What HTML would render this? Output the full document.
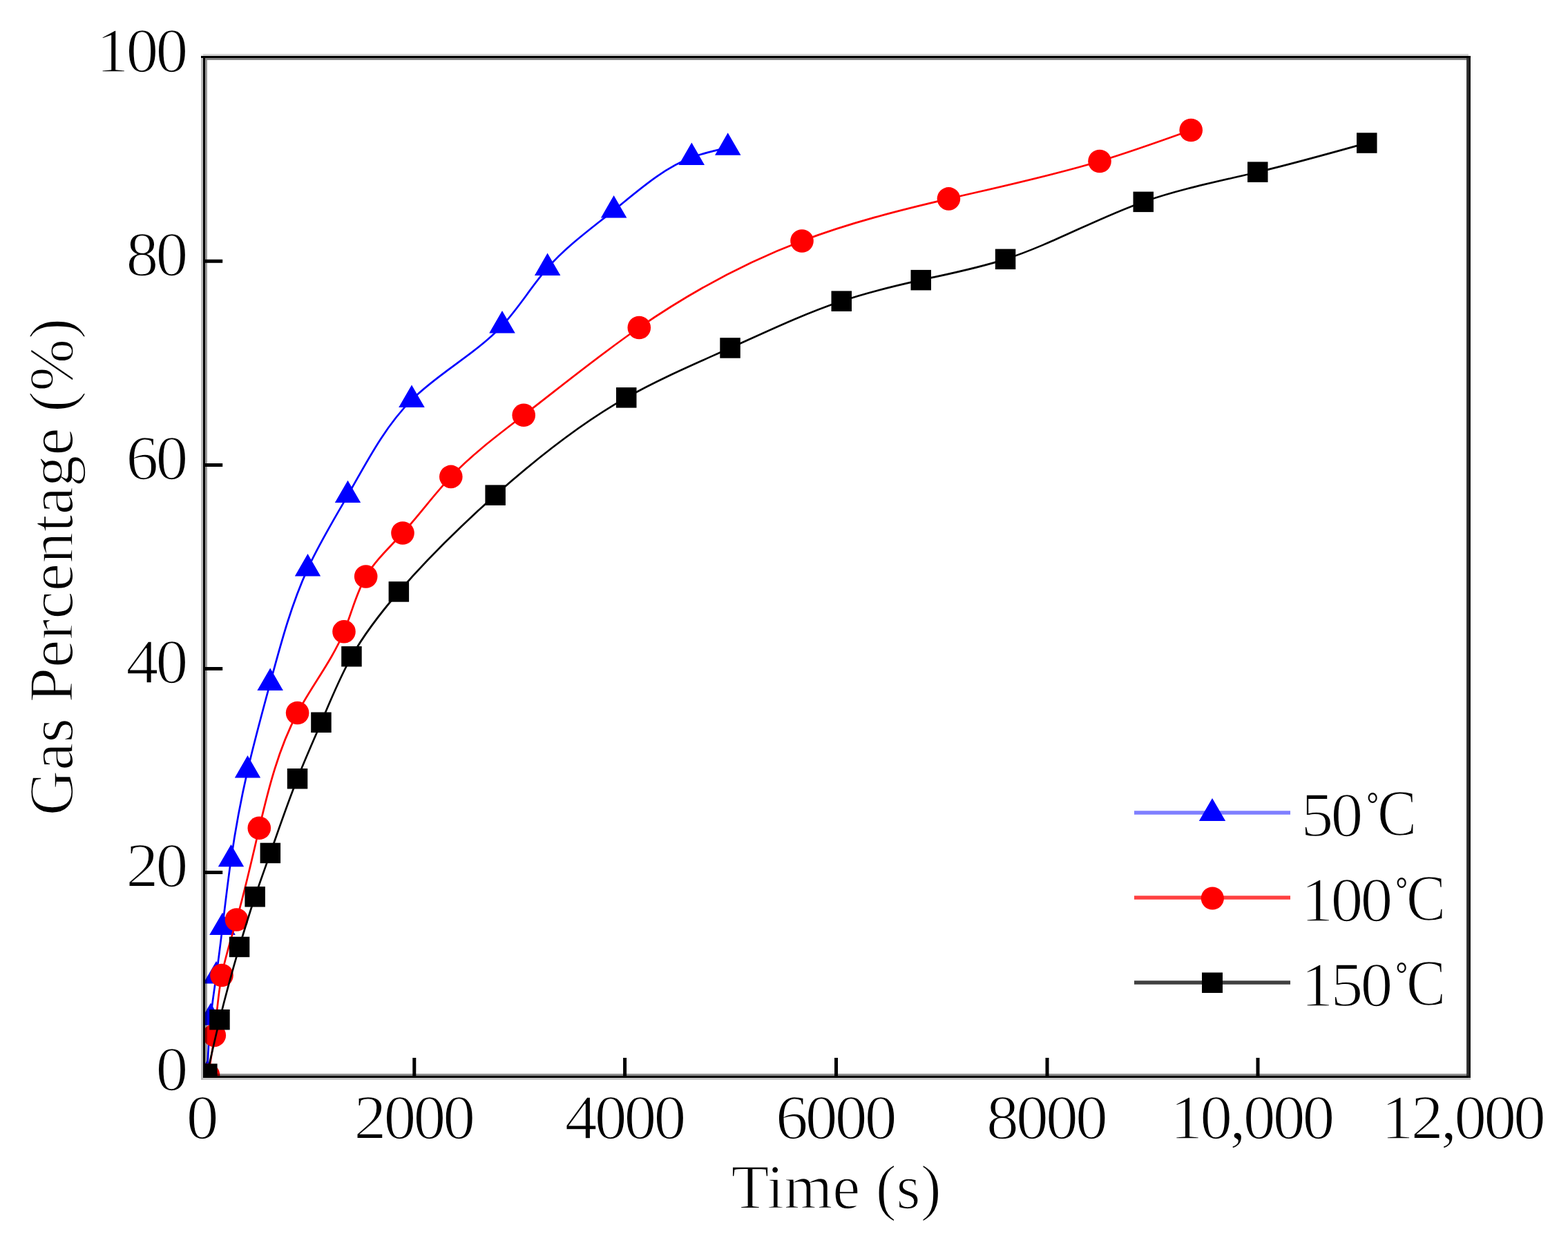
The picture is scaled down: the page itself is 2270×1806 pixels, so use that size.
<!DOCTYPE html>
<html><head><meta charset="utf-8"><title>Gas Percentage vs Time</title>
<style>html,body{margin:0;padding:0;background:#fff;}svg{display:block;}
.t{font-family:"Liberation Serif","Noto Serif CJK SC",serif;fill:#000;stroke:#fff;stroke-width:1.7px;}</style></head><body>
<svg width="2270" height="1806" viewBox="0 0 2270 1806">
<rect width="2270" height="1806" fill="#fff"/>
<defs><clipPath id="pa"><rect x="295.2" y="82.6" width="1830.4" height="1476.0"/></clipPath></defs>
<g clip-path="url(#pa)">
<path d="M300.00,1557.00 C301.06,1529.27 302.12,1501.55 305.00,1474.00 C307.11,1453.81 310.19,1433.72 313.00,1413.60 C316.27,1390.20 319.18,1366.75 322.00,1343.30 C325.96,1310.34 329.74,1277.37 334.50,1244.50 C340.77,1201.23 348.73,1158.16 358.50,1115.60 C368.24,1073.19 379.78,1031.30 391.20,989.10 C406.43,932.85 421.44,876.05 445.50,823.60 C462.23,787.13 483.33,752.76 503.50,717.30 C531.20,668.60 557.16,617.83 596.00,579.10 C635.58,539.63 688.55,512.67 727.00,471.60 C751.07,445.89 769.46,414.64 792.60,388.20 C820.37,356.48 854.99,331.66 888.60,304.60 C924.56,275.64 959.37,244.10 1001.30,228.10 C1018.01,221.72 1035.86,217.81 1053.70,213.90" fill="none" stroke="#00f" stroke-width="2.7" stroke-linejoin="round"/>
<g fill="#00f"><path d="M300.0,1535.4L318.8,1567.8L281.2,1567.8Z"/><path d="M305.0,1452.4L323.8,1484.8L286.2,1484.8Z"/><path d="M313.0,1392.0L331.8,1424.4L294.2,1424.4Z"/><path d="M322.0,1321.7L340.8,1354.1L303.2,1354.1Z"/><path d="M334.5,1222.9L353.2,1255.3L315.8,1255.3Z"/><path d="M358.5,1094.0L377.2,1126.4L339.8,1126.4Z"/><path d="M391.2,967.5L409.9,999.9L372.4,999.9Z"/><path d="M445.5,802.0L464.2,834.4L426.8,834.4Z"/><path d="M503.5,695.7L522.2,728.1L484.8,728.1Z"/><path d="M596.0,557.5L614.8,589.9L577.2,589.9Z"/><path d="M727.0,450.0L745.8,482.4L708.2,482.4Z"/><path d="M792.6,366.6L811.4,399.0L773.9,399.0Z"/><path d="M888.6,283.0L907.4,315.4L869.9,315.4Z"/><path d="M1001.3,206.5L1020.0,238.9L982.5,238.9Z"/><path d="M1053.7,192.3L1072.5,224.7L1035.0,224.7Z"/></g>
<path d="M301.50,1557.00 C304.71,1537.85 307.93,1518.69 310.30,1499.40 C313.86,1470.41 315.53,1441.10 321.00,1412.50 C326.21,1385.29 334.86,1358.72 342.50,1332.00 C355.04,1288.16 364.85,1243.90 375.30,1199.30 C388.73,1141.96 403.21,1084.04 430.60,1032.50 C451.74,992.72 480.58,956.74 498.00,914.80 C509.03,888.25 515.47,859.32 529.70,835.00 C543.37,811.63 564.23,792.52 583.00,772.00 C607.43,745.30 628.33,716.20 652.80,690.40 C684.25,657.24 721.60,629.54 758.20,601.30 C813.83,558.38 867.74,514.21 925.30,474.50 C998.58,423.95 1077.78,380.63 1161.00,349.00 C1229.88,322.82 1301.51,304.66 1373.40,287.90 C1446.67,270.82 1520.20,255.19 1592.00,233.50 C1636.51,220.05 1680.36,204.28 1724.20,188.50" fill="none" stroke="#f00" stroke-width="2.7" stroke-linejoin="round"/>
<g fill="#f00"><circle cx="301.5" cy="1557.0" r="16.8"/><circle cx="310.3" cy="1499.4" r="16.8"/><circle cx="321.0" cy="1412.5" r="16.8"/><circle cx="342.5" cy="1332.0" r="16.8"/><circle cx="375.3" cy="1199.3" r="16.8"/><circle cx="430.6" cy="1032.5" r="16.8"/><circle cx="498.0" cy="914.8" r="16.8"/><circle cx="529.7" cy="835.0" r="16.8"/><circle cx="583.0" cy="772.0" r="16.8"/><circle cx="652.8" cy="690.4" r="16.8"/><circle cx="758.2" cy="601.3" r="16.8"/><circle cx="925.3" cy="474.5" r="16.8"/><circle cx="1161.0" cy="349.0" r="16.8"/><circle cx="1373.4" cy="287.9" r="16.8"/><circle cx="1592.0" cy="233.5" r="16.8"/><circle cx="1724.2" cy="188.5" r="16.8"/></g>
<path d="M299.90,1555.20 C305.76,1528.99 311.62,1502.78 318.00,1476.70 C326.65,1441.38 336.26,1406.30 346.50,1371.40 C353.65,1347.03 361.11,1322.76 369.20,1298.70 C376.33,1277.51 383.94,1256.49 391.40,1235.40 C404.13,1199.41 416.39,1163.22 430.50,1127.80 C441.42,1100.39 453.43,1073.44 465.00,1046.20 C478.72,1013.90 491.80,981.21 509.00,950.80 C528.00,917.20 552.03,886.38 577.40,857.00 C620.61,806.96 667.74,761.08 717.10,717.10 C776.14,664.50 838.36,614.61 906.80,575.90 C955.02,548.62 1006.31,526.89 1057.10,504.00 C1110.38,479.98 1163.09,454.69 1218.20,436.20 C1255.72,423.61 1294.34,414.17 1333.20,405.60 C1374.36,396.52 1415.79,388.41 1455.60,375.40 C1523.87,353.09 1587.41,316.37 1655.20,292.40 C1708.84,273.43 1765.14,262.44 1820.70,249.20 C1873.82,236.54 1926.26,221.82 1978.70,207.10" fill="none" stroke="#000" stroke-width="2.7" stroke-linejoin="round"/>
<g fill="#000"><rect x="285.1" y="1540.5" width="29.5" height="29.5"/><rect x="303.2" y="1462.0" width="29.5" height="29.5"/><rect x="331.8" y="1356.7" width="29.5" height="29.5"/><rect x="354.4" y="1284.0" width="29.5" height="29.5"/><rect x="376.6" y="1220.7" width="29.5" height="29.5"/><rect x="415.8" y="1113.0" width="29.5" height="29.5"/><rect x="450.2" y="1031.5" width="29.5" height="29.5"/><rect x="494.2" y="936.0" width="29.5" height="29.5"/><rect x="562.6" y="842.2" width="29.5" height="29.5"/><rect x="702.4" y="702.4" width="29.5" height="29.5"/><rect x="892.0" y="561.1" width="29.5" height="29.5"/><rect x="1042.3" y="489.2" width="29.5" height="29.5"/><rect x="1203.5" y="421.4" width="29.5" height="29.5"/><rect x="1318.5" y="390.9" width="29.5" height="29.5"/><rect x="1440.8" y="360.6" width="29.5" height="29.5"/><rect x="1640.5" y="277.6" width="29.5" height="29.5"/><rect x="1806.0" y="234.4" width="29.5" height="29.5"/><rect x="1964.0" y="192.3" width="29.5" height="29.5"/></g>
</g>
<g shape-rendering="crispEdges"><rect x="291" y="78" width="3" height="3" fill="#000" fill-opacity="0.06"/><rect x="294" y="78" width="1832" height="3" fill="#000" fill-opacity="0.17"/><rect x="291" y="81" width="1838" height="3" fill="#000" fill-opacity="1.00"/><rect x="297" y="84" width="1826" height="3" fill="#000" fill-opacity="0.48"/><rect x="291" y="81" width="3" height="1483" fill="#000" fill-opacity="0.27"/><rect x="294" y="84" width="3" height="1474" fill="#000" fill-opacity="1.00"/><rect x="297" y="87" width="3" height="1468" fill="#000" fill-opacity="0.40"/><rect x="2123" y="84" width="3" height="1474" fill="#000" fill-opacity="0.80"/><rect x="2126" y="84" width="3" height="1474" fill="#000" fill-opacity="0.90"/><rect x="300" y="1555" width="1823" height="3" fill="#000" fill-opacity="0.44"/><rect x="294" y="1558" width="1832" height="3" fill="#000" fill-opacity="1.00"/><rect x="2126" y="1558" width="3" height="3" fill="#000" fill-opacity="0.90"/><rect x="294" y="1561" width="1835" height="3" fill="#000" fill-opacity="0.22"/></g>
<path d="M599.8,1558.6V1532.1 M904.6,1558.6V1532.1 M1210.5,1558.6V1532.1 M1516.0,1558.6V1532.1 M1821.0,1558.6V1532.1 M295.2,1263.6H322.2 M295.2,968.5H322.2 M295.2,673.4H322.2 M295.2,378.3H322.2" stroke="#000" stroke-width="5" fill="none"/>
<text class="t" font-size="91" text-anchor="middle" transform="translate(291.2,1648.5) scale(1.030,1)" letter-spacing="-3.8">0</text>
<text class="t" font-size="91" text-anchor="middle" transform="translate(598.4,1648.5) scale(1.030,1)" letter-spacing="-3.8">2000</text>
<text class="t" font-size="91" text-anchor="middle" transform="translate(903.6,1648.5) scale(1.030,1)" letter-spacing="-3.8">4000</text>
<text class="t" font-size="91" text-anchor="middle" transform="translate(1208.8,1648.5) scale(1.030,1)" letter-spacing="-3.8">6000</text>
<text class="t" font-size="91" text-anchor="middle" transform="translate(1514.0,1648.5) scale(1.030,1)" letter-spacing="-3.8">8000</text>
<text class="t" font-size="91" text-anchor="middle" transform="translate(1811.4,1648.5) scale(1.030,1)" letter-spacing="-3.8">10,000</text>
<text class="t" font-size="91" text-anchor="middle" transform="translate(2116.9,1648.5) scale(1.030,1)" letter-spacing="-3.8">12,000</text>
<text class="t" font-size="91" text-anchor="end" transform="translate(268.4,1579.2) scale(1.030,1)" letter-spacing="-3.8">0</text>
<text class="t" font-size="91" text-anchor="end" transform="translate(268.4,1284.1) scale(1.030,1)" letter-spacing="-3.8">20</text>
<text class="t" font-size="91" text-anchor="end" transform="translate(268.4,989.0) scale(1.030,1)" letter-spacing="-3.8">40</text>
<text class="t" font-size="91" text-anchor="end" transform="translate(268.4,693.9) scale(1.030,1)" letter-spacing="-3.8">60</text>
<text class="t" font-size="91" text-anchor="end" transform="translate(268.4,398.8) scale(1.030,1)" letter-spacing="-3.8">80</text>
<text class="t" font-size="91" text-anchor="end" transform="translate(268.4,103.7) scale(1.030,1)" letter-spacing="-3.8">100</text>
<text class="t" font-size="90" text-anchor="middle" x="1210.5" y="1749.5">Time (s)</text>
<text class="t" font-size="90" text-anchor="middle" transform="translate(104.5,821) rotate(-90) scale(1.0085,1)">Gas Percentage (%)</text>
<path d="M1642,1177.0H1868" stroke="#7f7fff" stroke-width="5.5"/>
<path d="M1755.0,1156.0L1774.2,1189.0L1735.8,1189.0Z" fill="#00f"/>
<text class="t" font-size="91" transform="translate(1883.5,1210.5) scale(1.030,1)" letter-spacing="-3.8">50</text>
<text class="t" transform="translate(1978.5,1209.5) scale(0.900,1)"><tspan font-size="48" dy="-29" style="stroke:none">°</tspan><tspan font-size="95" dx="-2" dy="29">C</tspan></text>
<path d="M1642,1300.0H1868" stroke="#ff4040" stroke-width="5.5"/>
<circle cx="1755.3" cy="1301.0" r="16.6" fill="#f00"/>
<text class="t" font-size="91" transform="translate(1883.5,1333.5) scale(1.030,1)" letter-spacing="-3.8">100</text>
<text class="t" transform="translate(2020.5,1332.5) scale(0.900,1)"><tspan font-size="48" dy="-29" style="stroke:none">°</tspan><tspan font-size="95" dx="-2" dy="29">C</tspan></text>
<path d="M1642,1423.0H1868" stroke="#404040" stroke-width="5.5"/>
<rect x="1740.0" y="1408.5" width="30" height="29.5" fill="#000"/>
<text class="t" font-size="91" transform="translate(1883.5,1456.5) scale(1.030,1)" letter-spacing="-3.8">150</text>
<text class="t" transform="translate(2020.5,1455.5) scale(0.900,1)"><tspan font-size="48" dy="-29" style="stroke:none">°</tspan><tspan font-size="95" dx="-2" dy="29">C</tspan></text>
</svg></body></html>
